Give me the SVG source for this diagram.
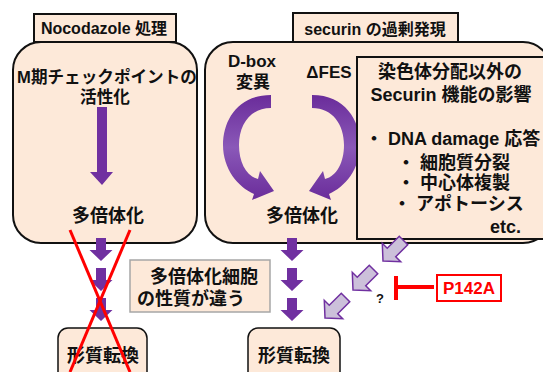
<svg xmlns="http://www.w3.org/2000/svg" width="543" height="372" viewBox="0 0 543 372">
<defs>
<style>
text{font-family:"Liberation Sans","Noto Sans CJK JP",sans-serif;font-weight:bold;fill:#111}
.box{fill:#FDE9D9;stroke:#111;stroke-width:2}
.lbl{fill:#FDE9D9;stroke:#111;stroke-width:2}
.s16{font-size:16px}
.s17{font-size:17px}
.s18{font-size:18px}
.pur{fill:#7030A0}
.lav{fill:#CCC0DA;stroke:#7030A0;stroke-width:1.5}
.red{stroke:#FF0000;fill:none}
</style>
<linearGradient id="g" x1="0" y1="95" x2="0" y2="200" gradientUnits="userSpaceOnUse">
<stop offset="0" stop-color="#6A2C9A"/>
<stop offset="0.5" stop-color="#8A58B8"/>
<stop offset="1" stop-color="#6A2C9A"/>
</linearGradient>
<path id="carc" d="M271 95 C238 95 223 120 223 145 C223 169 238 187 254 194 L252 200 L274 191 L260 171 L258 179 C246 176 239 162 239 145 C239 125 250 108 271 108 Z"/>
<path id="dn" d="M-5 0 H5 V12 H11.5 L0 23 L-11.5 12 H-5 Z"/>
<path id="da" d="M0 0 L-12 -13 V-6 H-29 V6 H-12 V13 Z"/>
</defs>

<g id="left-panel">
<rect class="box" x="13" y="42" width="184" height="201" rx="28"/>
<text x="107" y="83" text-anchor="middle" style="font-size:16.6px">M期チェックポイントの</text>
<text x="105" y="103" text-anchor="middle" style="font-size:16.6px">活性化</text>
<path class="pur" d="M97 107 H107 V172 H113 L102 185 L90 172 H97 Z"/>
<text class="s18" x="108" y="222" text-anchor="middle">多倍体化</text>
</g>
<g id="label-nocodazole">
<rect class="lbl" x="34" y="14" width="142" height="28"/>
<text class="s16" x="104" y="34" text-anchor="middle">Nocodazole 処理</text>
</g>

<g id="right-panel">
<rect class="box" x="205" y="42" width="346" height="201" rx="28"/>
<text class="s17" x="252" y="67" text-anchor="middle">D-box</text>
<text class="s17" x="253" y="88" text-anchor="middle">変異</text>
<text class="s17" x="329" y="78" text-anchor="middle">ΔFES</text>
<use href="#carc" fill="url(#g)"/>
<use href="#carc" fill="url(#g)" transform="translate(583 0) scale(-1 1)"/>
<text class="s18" x="302" y="222" text-anchor="middle">多倍体化</text>
</g>
<g id="label-securin">
<rect class="lbl" x="293" y="13" width="165" height="29"/>
<text class="s16" x="375" y="35" text-anchor="middle">securin の過剰発現</text>
</g>

<g id="securin-functions">
<rect class="box" x="357" y="57" width="200" height="182"/>
<text class="s18" x="450" y="78" text-anchor="middle">染色体分配以外の</text>
<text class="s18" x="451" y="101" text-anchor="middle">Securin 機能の影響</text>
<text class="s18" x="365" y="145">・ DNA damage 応答</text>
<text class="s18" x="397" y="169">・ 細胞質分裂</text>
<text class="s18" x="397" y="189">・ 中心体複製</text>
<text class="s18" x="393" y="210">・ アポトーシス</text>
<text class="s18" x="490" y="233">etc.</text>
</g>

<g id="polyploid-note">
<rect x="130" y="260" width="140" height="52" fill="#FDE9D9" stroke="#A6A6A6" stroke-width="1.5"/>
<text class="s18" x="150" y="283">多倍体化細胞</text>
<text class="s18" x="137" y="305">の性質が違う</text>
</g>

<g id="transform-left">
<rect class="box" x="58" y="328" width="89" height="60" rx="10" style="stroke-width:1.5"/>
<text class="s18" x="103" y="362" text-anchor="middle">形質転換</text>
</g>
<g id="transform-right">
<rect class="box" x="248" y="328" width="92" height="60" rx="10" style="stroke-width:1.5"/>
<text class="s18" x="294" y="362" text-anchor="middle">形質転換</text>
</g>

<g id="p142a">
<rect x="437" y="275" width="64" height="26" fill="#fff" stroke="#FF0000" stroke-width="2"/>
<text x="469" y="294" text-anchor="middle" style="font-size:17px;fill:#FF0000">P142A</text>
</g>

<g id="connectors">
<use href="#dn" class="pur" transform="translate(101 238)"/>
<use href="#dn" class="pur" transform="translate(101 268)"/>
<use href="#dn" class="pur" transform="translate(101 298)"/>
<use href="#dn" class="pur" transform="translate(292 238)"/>
<use href="#dn" class="pur" transform="translate(292 268)"/>
<use href="#dn" class="pur" transform="translate(292 298)"/>
<use href="#da" class="lav" transform="translate(383 261) rotate(135)"/>
<use href="#da" class="lav" transform="translate(353 290) rotate(135)"/>
<use href="#da" class="lav" transform="translate(325 318) rotate(135)"/>
<text x="380" y="303" text-anchor="middle" style="font-size:13px">?</text>
<line class="red" x1="397" y1="287" x2="434" y2="287" stroke-width="4"/>
<line class="red" x1="396" y1="276" x2="396" y2="300" stroke-width="4"/>
<line class="red" x1="70" y1="230" x2="130" y2="372" stroke-width="3"/>
<line class="red" x1="130" y1="230" x2="70" y2="372" stroke-width="3"/>
</g>
</svg>
